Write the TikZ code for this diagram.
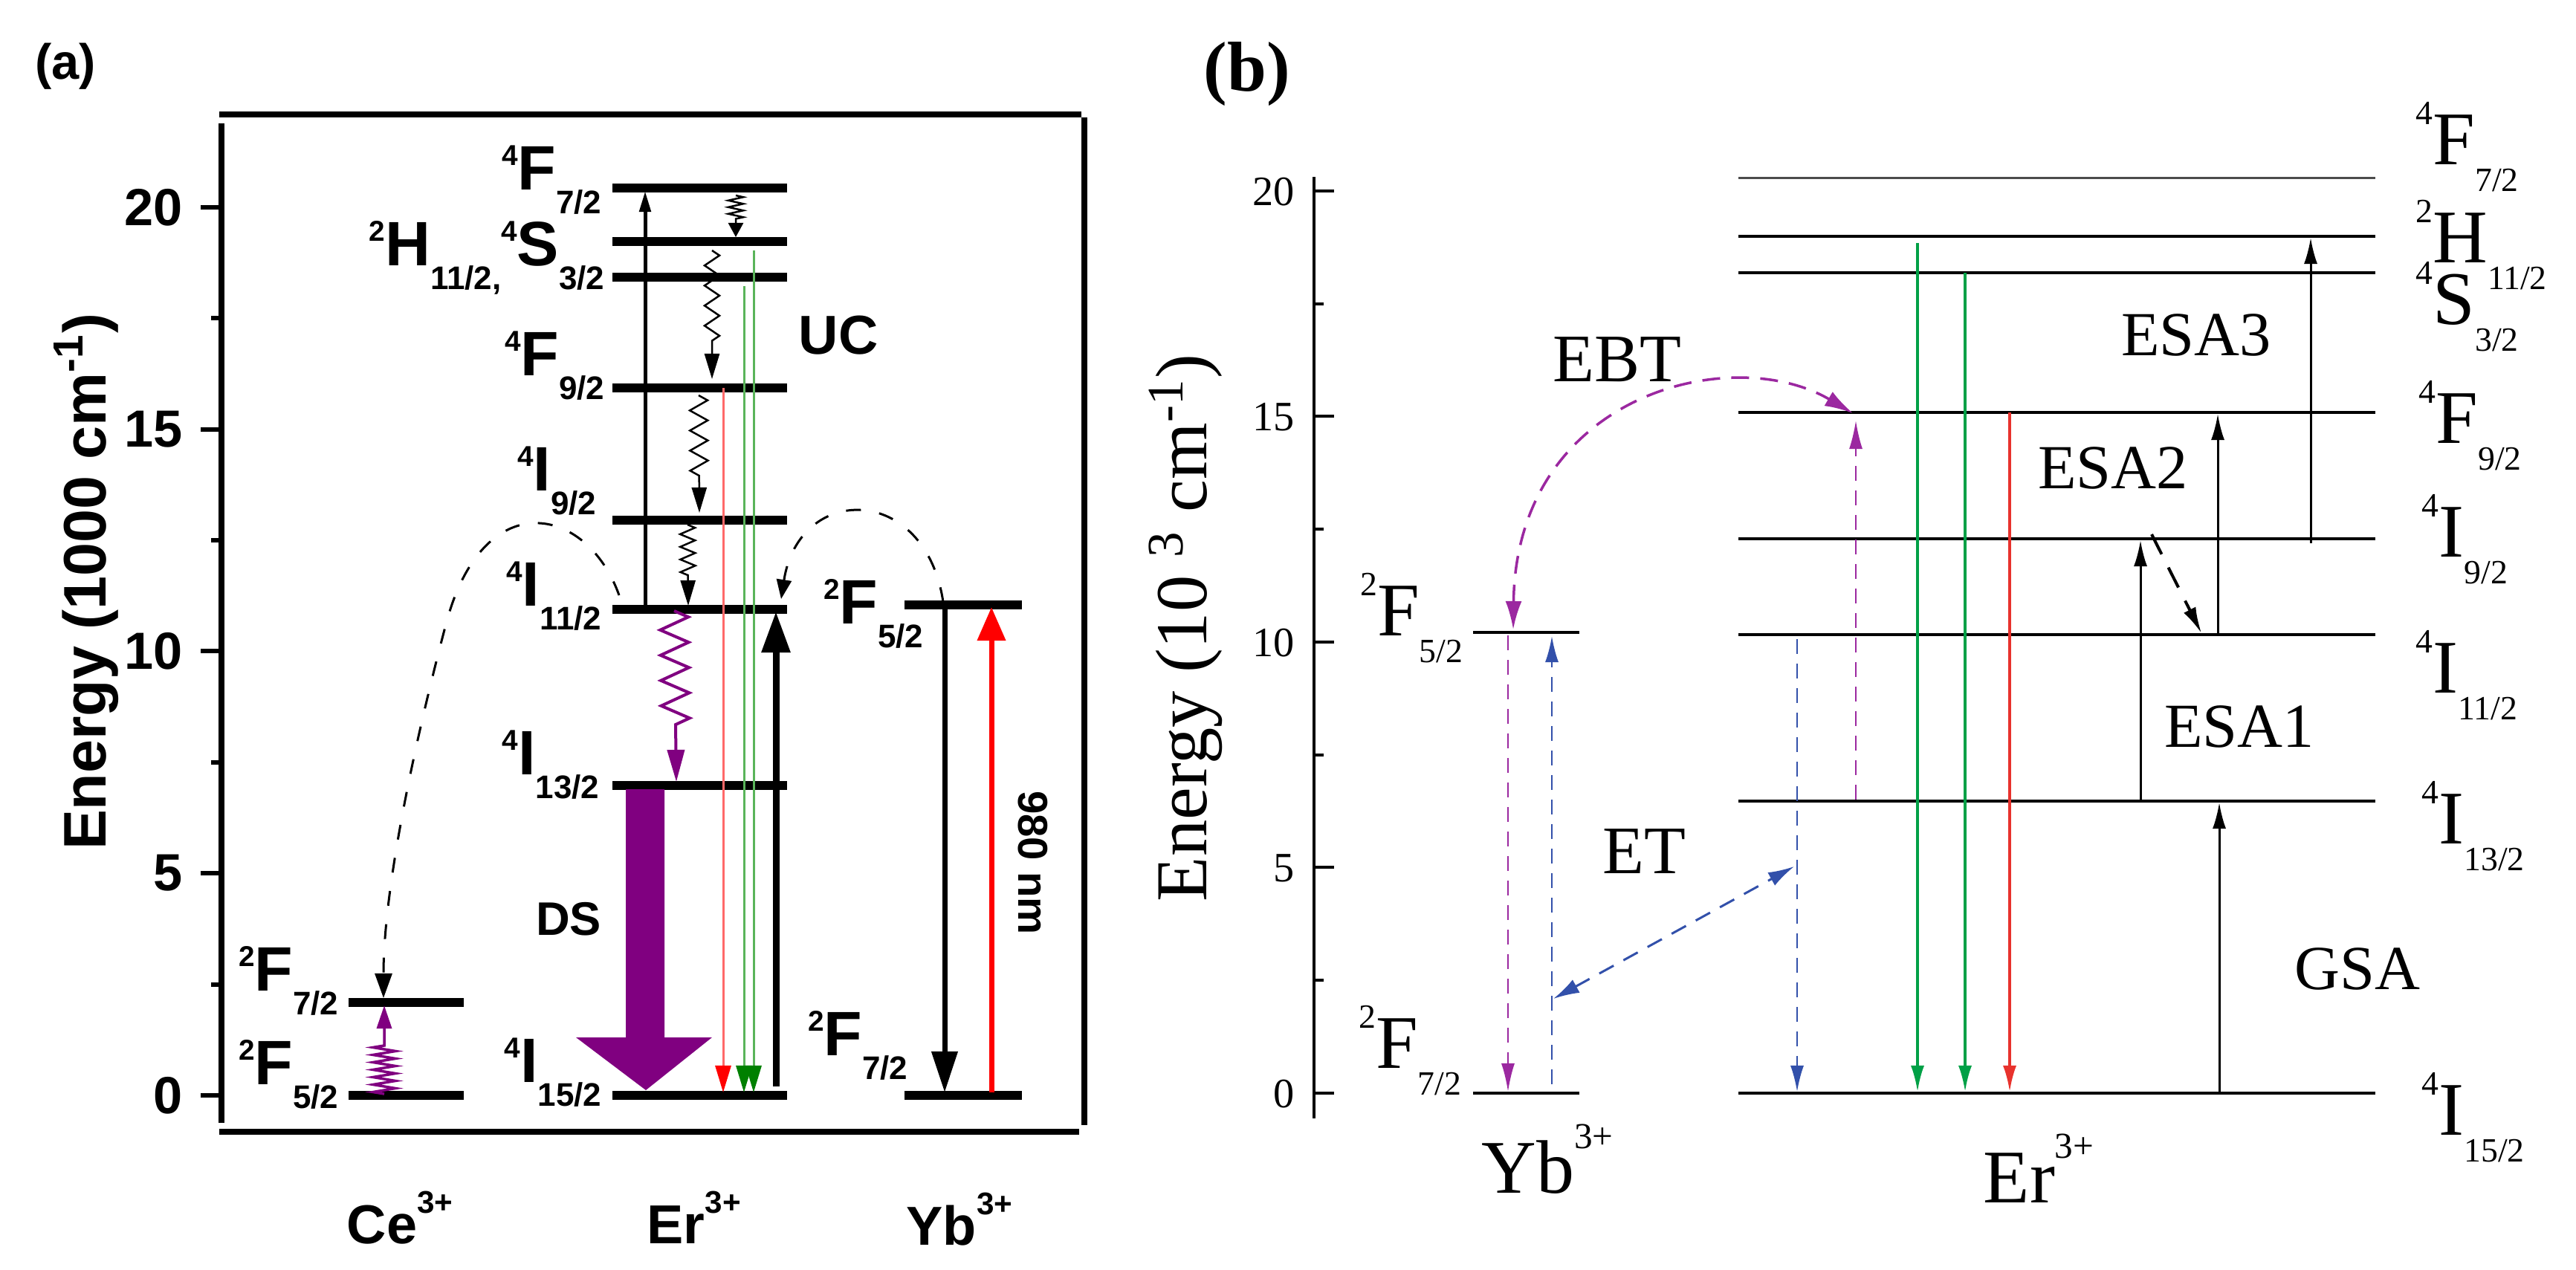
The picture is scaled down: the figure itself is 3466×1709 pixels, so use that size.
\documentclass[tikz,border=0pt]{standalone}
\usepackage{fontspec}
\setmainfont{Liberation Serif}
\newfontfamily\arialfont{Liberation Sans}
\usetikzlibrary{arrows.meta,decorations.pathmorphing}

\definecolor{dspurple}{RGB}{128,0,128}
\definecolor{ucred}{RGB}{255,105,105}
\definecolor{ucgreen}{RGB}{90,180,90}
\definecolor{tipgreen}{RGB}{0,128,0}
\definecolor{ebtpurple}{RGB}{155,40,160}
\definecolor{etblue}{RGB}{50,80,170}
\definecolor{emgreen}{RGB}{0,160,70}
\definecolor{emred}{RGB}{232,50,45}

% term symbols: superscript, letter, lowered subscript
\newcommand{\termA}[3]{\raisebox{0.38em}{\fontsize{11}{11}\selectfont #1}#2\raisebox{-0.38em}{\fontsize{12.5}{12.5}\selectfont #3}}
\newcommand{\termB}[3]{\raisebox{0.52em}{\fontsize{13}{13}\selectfont #1}#2\raisebox{-0.36em}{\fontsize{13}{13}\selectfont #3}}
\newcommand{\ionA}[1]{#1\raisebox{0.55em}{\fontsize{12}{12}\selectfont 3+}}
\newcommand{\ionB}[1]{#1\raisebox{0.58em}{\fontsize{14}{14}\selectfont 3+}}

\begin{document}
\begin{tikzpicture}[x=0.01cm,y=-0.01cm,
  term a/.style={font=\arialfont\bfseries\fontsize{24}{24}\selectfont,inner sep=0pt},
  term b/.style={font=\fontsize{29}{29}\selectfont,inner sep=0pt},
  tick a/.style={font=\arialfont\bfseries\fontsize{20}{20}\selectfont,inner sep=0pt,anchor=east},
  tick b/.style={font=\fontsize{16}{16}\selectfont,inner sep=0pt,anchor=east},
  label a/.style={font=\arialfont\bfseries\fontsize{21}{21}\selectfont,inner sep=0pt},
  label b/.style={font=\fontsize{25}{25}\selectfont,inner sep=0pt},
  level a/.style={line width=1.2mm},
  level b/.style={line width=0.45mm},
  frame a/.style={line width=0.8mm},
  wiggle/.style={decorate,decoration={zigzag,amplitude=1mm,segment length=2.7mm,post length=3.8mm}},
  arc a/.style={line width=0.3mm,dash pattern=on 2mm off 2.5mm},
  ebt/.style={ebtpurple,line width=0.35mm,dash pattern=on 2.4mm off 1.5mm},
  et/.style={etblue,line width=0.3mm,dash pattern=on 2.2mm off 1.5mm},
  tip b/.style={-{Latex[length=3.5mm,width=1.8mm]}}]
\useasboundingbox (0,0) rectangle (3466,1709);

% ---------------- panel (a)
\node[font=\arialfont\bfseries\fontsize{19}{19}\selectfont] (pa) at (88,89) {(a)};
\draw[frame a] (295,154) -- (1455,154);
\draw[frame a] (1459,158) -- (1459,1514);
\draw[frame a] (295,1523) -- (1452,1523);
\draw[frame a] (298,166) -- (298,1511);
\draw[line width=0.6mm] (270,279) -- (298,279) (284,428) -- (298,428) (270,578) -- (298,578)
  (284,727) -- (298,727) (270,876) -- (298,876) (284,1026) -- (298,1026)
  (270,1175) -- (298,1175) (284,1325) -- (298,1325) (270,1474) -- (298,1474);
\node[tick a] (ta20) at (246,279) {20};
\node[tick a] (ta15) at (246,578) {15};
\node[tick a] (ta10) at (246,876) {10};
\node[tick a] (ta5) at (246,1175) {5};
\node[tick a] (ta0) at (246,1474) {0};
\node[font=\arialfont\bfseries\fontsize{23}{23}\selectfont,rotate=90,inner sep=0pt] (ya) at (116,783)
  {Energy (1000 cm\textsuperscript{-1})};

% levels
\draw[level a] (469,1349) -- (624,1349);
\draw[level a] (469,1474) -- (624,1474);
\draw[level a] (824,253) -- (1059,253);
\draw[level a] (824,325) -- (1059,325);
\draw[level a] (824,373) -- (1059,373);
\draw[level a] (824,522) -- (1059,522);
\draw[level a] (824,700) -- (1059,700);
\draw[level a] (824,820) -- (1059,820);
\draw[level a] (824,1057) -- (1059,1057);
\draw[level a] (824,1474) -- (1059,1474);
\draw[level a] (1217,814) -- (1375,814);
\draw[level a] (1217,1474) -- (1375,1474);

\node[term a,anchor=base east] (ce7) at (456,1333) {\termA{2}{F}{7/2}};
\node[term a,anchor=base east] (ce5) at (456,1459) {\termA{2}{F}{5/2}};
\node[term a,anchor=base east] (erF7) at (810,255) {\termA{4}{F}{7/2}};
\node[term a,anchor=base east] (erHS) at (814,357) {\termA{2}{H}{11/2,}\termA{4}{S}{3/2}};
\node[term a,anchor=base east] (erF9) at (814,505) {\termA{4}{F}{9/2}};
\node[term a,anchor=base east] (erI9) at (803,660) {\termA{4}{I}{9/2}};
\node[term a,anchor=base east] (erI11) at (810,815) {\termA{4}{I}{11/2}};
\node[term a,anchor=base east] (erI13) at (807,1042) {\termA{4}{I}{13/2}};
\node[term a,anchor=base east] (erI15) at (810,1456) {\termA{4}{I}{15/2}};
\node[term a,anchor=base east] (yb5) at (1243,839) {\termA{2}{F}{5/2}};
\node[term a,anchor=base east] (yb7) at (1222,1420) {\termA{2}{F}{7/2}};

\node[label a] (uc) at (1128,451) {UC};
\node[label a,font=\arialfont\bfseries\fontsize{18}{18}\selectfont] (ds) at (765,1237) {DS};
\node[label a,font=\arialfont\bfseries\fontsize{16}{16}\selectfont,rotate=-90] (nm) at (1390,1161) {980 nm};
\node[label a,anchor=base west] (ceion) at (466,1673) {\ionA{Ce}};
\node[label a,anchor=base west] (erion) at (870,1673) {\ionA{Er}};
\node[label a,anchor=base west] (ybion) at (1219,1675) {\ionA{Yb}};

% transitions
\coordinate (ucS) at (868,818);   \coordinate (ucE) at (868,257);
\coordinate (w1s) at (990,263);   \coordinate (w1e) at (990,319);
\coordinate (w2s) at (958,337);   \coordinate (w2e) at (958,510);
\coordinate (w3s) at (940,532);   \coordinate (w3e) at (941,690);
\coordinate (w4s) at (925,706);   \coordinate (w4e) at (926,815);
\coordinate (rS) at (973,522);    \coordinate (rE) at (973,1470);
\coordinate (g1S) at (1001,385);  \coordinate (g1E) at (1001,1470);
\coordinate (g2S) at (1014,337);  \coordinate (g2E) at (1014,1470);
\coordinate (pumpS) at (1044,1462); \coordinate (pumpE) at (1044,823);
\coordinate (ybdS) at (1271,817); \coordinate (ybdE) at (1271,1470);
\coordinate (ybuS) at (1334,1470); \coordinate (ybuE) at (1334,817);
\coordinate (pwS) at (907,822);   \coordinate (pwE) at (910,1052);
\coordinate (cwS) at (517,1472);  \coordinate (cwE) at (517,1353);
\coordinate (arcLs) at (833,801); \coordinate (arcLe) at (516,1343);
\coordinate (arcRs) at (1269,810); \coordinate (arcRe) at (1051,806);

\draw[line width=0.5mm,-{Triangle[length=2.8mm,width=1.5mm]}] (ucS) -- (ucE);
\draw[line width=0.25mm,-{Triangle[length=1.9mm,width=2mm]},wiggle,
  decoration={segment length=0.9mm,post length=2.1mm}] (w1s) -- (w1e);
\draw[line width=0.25mm,-{Triangle[length=3.4mm,width=2mm]},wiggle] (w2s) -- (w2e);
\draw[line width=0.25mm,-{Triangle[length=3.4mm,width=2mm]},wiggle,
  decoration={amplitude=1.2mm}] (w3s) -- (w3e);
\draw[line width=0.25mm,-{Triangle[length=3.4mm,width=2mm]},wiggle,
  decoration={segment length=1.7mm}] (w4s) -- (w4e);
\draw[ucred,line width=0.3mm,-{Triangle[length=3.6mm,width=2.1mm,color=red,fill=red]}] (rS) -- (rE);
\draw[ucgreen,line width=0.3mm,-{Triangle[length=3.6mm,width=2.1mm,color=tipgreen,fill=tipgreen]}] (g1S) -- (g1E);
\draw[ucgreen,line width=0.3mm,-{Triangle[length=3.6mm,width=2.1mm,color=tipgreen,fill=tipgreen]}] (g2S) -- (g2E);
\draw[line width=0.9mm,-{Triangle[length=5.5mm,width=3.7mm]}] (pumpS) -- (pumpE);
\draw[line width=0.7mm,-{Triangle[length=5.5mm,width=3.4mm]}] (ybdS) -- (ybdE);
\draw[red,line width=0.7mm,-{Triangle[length=4.5mm,width=3.7mm]}] (ybuS) -- (ybuE);
\draw[dspurple,line width=0.4mm,-{Triangle[length=4.3mm,width=2.3mm]},wiggle,
  decoration={amplitude=1.9mm,segment length=3.4mm,post length=7mm}] (pwS) -- (pwE);
\draw[dspurple,line width=0.35mm,-{Triangle[length=3.1mm,width=2mm]},wiggle,
  decoration={amplitude=1.5mm,segment length=1mm,post length=5mm}] (cwS) -- (cwE);
\fill[dspurple] (842,1062) -- (894,1062) -- (894,1396) -- (958,1396) -- (869,1467)
  -- (775,1396) -- (842,1396) -- cycle;
\draw[arc a,-{Triangle[length=3.3mm,width=2.3mm]}] (arcLs) .. controls (790,680) and (650,650) .. (600,840)
  .. controls (555,1010) and (516,1200) .. (arcLe);
\draw[arc a,-{Triangle[length=2.6mm,width=2mm]}] (arcRs) .. controls (1245,650) and (1075,650) .. (arcRe);

% ---------------- panel (b)
\node[font=\bfseries\fontsize{27}{27}\selectfont] (pb) at (1678,100) {(b)};
\draw[line width=0.35mm] (1768,238) -- (1768,1505);
\draw[line width=0.35mm] (1768,257) -- (1795,257) (1768,409) -- (1781,409) (1768,560) -- (1795,560)
  (1768,712) -- (1781,712) (1768,864) -- (1795,864) (1768,1016) -- (1781,1016)
  (1768,1167) -- (1795,1167) (1768,1319) -- (1781,1319) (1768,1471) -- (1795,1471);
\node[tick b] (tb20) at (1742,258) {20};
\node[tick b] (tb15) at (1742,561) {15};
\node[tick b] (tb10) at (1742,865) {10};
\node[tick b] (tb5) at (1742,1168) {5};
\node[tick b] (tb0) at (1742,1472) {0};
\node[font=\fontsize{28}{28}\selectfont,rotate=90,inner sep=0pt] (yb) at (1595,845)
  {Energy (10 \textsuperscript{3} cm\textsuperscript{-1})};

% levels
\draw[level b] (1982,851) -- (2125,851);
\draw[level b] (1982,1471) -- (2125,1471);
\draw[line width=0.3mm,black!70] (2339,239) -- (3196,239);
\draw[level b] (2339,318) -- (3196,318);
\draw[level b] (2339,367) -- (3196,367);
\draw[level b] (2339,555) -- (3196,555);
\draw[level b] (2339,725) -- (3196,725);
\draw[level b] (2339,854) -- (3196,854);
\draw[level b] (2339,1078) -- (3196,1078);
\draw[level b] (2339,1471) -- (3196,1471);

\node[term b,anchor=base east] (yb5b) at (1969,855) {\termB{2}{F}{5/2}};
\node[term b,anchor=base east] (yb7b) at (1967,1437) {\termB{2}{F}{7/2}};
\node[term b,anchor=base west] (bF7) at (3250,221) {\termB{4}{F}{7/2}};
\node[term b,anchor=base west] (bH11) at (3250,353) {\termB{2}{H}{11/2}};
\node[term b,anchor=base west] (bS3) at (3250,436) {\termB{4}{S}{3/2}};
\node[term b,anchor=base west] (bF9) at (3254,596) {\termB{4}{F}{9/2}};
\node[term b,anchor=base west] (bI9) at (3258,749) {\termB{4}{I}{9/2}};
\node[term b,anchor=base west] (bI11) at (3250,932) {\termB{4}{I}{11/2}};
\node[term b,anchor=base west] (bI13) at (3258,1135) {\termB{4}{I}{13/2}};
\node[term b,anchor=base west] (bI15) at (3258,1527) {\termB{4}{I}{15/2}};

\node[label b,font=\fontsize{26}{26}\selectfont] (ebtl) at (2176,484) {EBT};
\node[label b,font=\fontsize{26}{26}\selectfont] (etl) at (2212,1146) {ET};
\node[label b,font=\fontsize{24}{24}\selectfont] (esa3l) at (2955,451) {ESA3};
\node[label b,font=\fontsize{24}{24}\selectfont] (esa2l) at (2843,630) {ESA2};
\node[label b,font=\fontsize{24}{24}\selectfont] (esa1l) at (3013,978) {ESA1};
\node[label b,font=\fontsize{24}{24}\selectfont] (gsal) at (3172,1304) {GSA};
\node[term b,anchor=base west] (ybionb) at (1993,1605) {\ionB{Yb}};
\node[term b,anchor=base west] (erionb) at (2668,1618) {\ionB{Er}};

% transitions
\coordinate (pdS) at (2029,855);   \coordinate (pdE) at (2029,1469);
\coordinate (buS) at (2088,1459);  \coordinate (buE) at (2088,856);
\coordinate (etA) at (2090,1344);  \coordinate (etB) at (2414,1166);
\coordinate (bdS) at (2418,860);   \coordinate (bdE) at (2418,1469);
\coordinate (ebtA) at (2036,847);  \coordinate (ebtB) at (2493,556);
\coordinate (puS) at (2497,1076);  \coordinate (puE) at (2497,566);
\coordinate (gaS) at (2580,327);   \coordinate (gaE) at (2580,1469);
\coordinate (gbS) at (2644,367);   \coordinate (gbE) at (2644,1469);
\coordinate (rdS) at (2704,555);   \coordinate (rdE) at (2704,1469);
\coordinate (esa1S) at (2880,1078); \coordinate (esa1E) at (2880,727);
\coordinate (nrS) at (2895,719);   \coordinate (nrE) at (2962,852);
\coordinate (esa2S) at (2984,852); \coordinate (esa2E) at (2984,557);
\coordinate (esa3S) at (3109,731); \coordinate (esa3E) at (3109,320);
\coordinate (gsaS) at (2986,1471); \coordinate (gsaE) at (2986,1080);

\draw[ebtpurple,line width=0.25mm,dash pattern=on 2mm off 1.3mm,
  -{Latex[length=3.8mm,width=1.8mm]}] (pdS) -- (pdE);
\draw[ebtpurple,line width=0.25mm,dash pattern=on 2mm off 1.3mm,
  -{Latex[length=3.8mm,width=1.8mm]}] (puS) -- (puE);
\draw[etblue,line width=0.25mm,dash pattern=on 2mm off 1.3mm,
  -{Latex[length=3.5mm,width=1.8mm]}] (buS) -- (buE);
\draw[etblue,line width=0.25mm,dash pattern=on 2mm off 1.3mm,
  -{Latex[length=3.5mm,width=1.8mm]}] (bdS) -- (bdE);
\draw[et,{Latex[length=3.5mm,width=2mm]}-{Latex[length=3.5mm,width=2mm]}] (etA) -- (etB);
\draw[ebt,{Latex[length=3.8mm,width=2.2mm]}-{Latex[length=3.8mm,width=2.2mm]}] (ebtA)
  .. controls (2040,530) and (2330,460) .. (ebtB);
\draw[emgreen,line width=0.35mm,tip b] (gaS) -- (gaE);
\draw[emgreen,line width=0.35mm,tip b] (gbS) -- (gbE);
\draw[emred,line width=0.35mm,tip b] (rdS) -- (rdE);
\draw[line width=0.3mm,tip b] (esa1S) -- (esa1E);
\draw[line width=0.4mm,dash pattern=on 3mm off 2mm,tip b] (nrS) -- (nrE);
\draw[line width=0.3mm,tip b] (esa2S) -- (esa2E);
\draw[line width=0.3mm,tip b] (esa3S) -- (esa3E);
\draw[line width=0.3mm,tip b] (gsaS) -- (gsaE);
\end{tikzpicture}
\end{document}
